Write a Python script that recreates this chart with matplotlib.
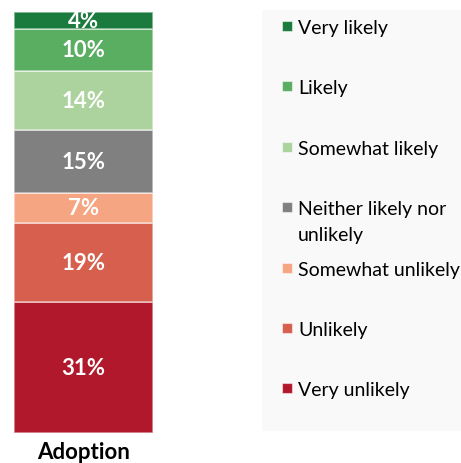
import matplotlib.pyplot as plt
from matplotlib.patches import Rectangle

plt.rcParams['font.family'] = ['Lato', 'DejaVu Sans']

# responses from bottom to top of the bar
categories = ["Very unlikely", "Unlikely", "Somewhat unlikely",
              "Neither likely nor\nunlikely", "Somewhat likely", "Likely", "Very likely"]
values = [31, 19, 7, 15, 14, 10, 4]
colors = ["#b2182b", "#d6604d", "#f6a582", "#808080", "#acd39e", "#5aae61", "#1b7a3d"]
bar_label = "Adoption"

fig = plt.figure(figsize=(4.61, 4.64), dpi=100)

# stacked bar
ax = fig.add_axes([14/461, 30/464, 139/461, 421/464])
bottom = 0
for v, c in zip(values, colors):
    ax.bar(0, v, width=1, bottom=bottom, color=c,
           edgecolor=(1, 1, 1, 0.55), linewidth=1.2)
    ax.text(0, bottom + v/2, f"{v}%", ha="center", va="center",
            color="white", fontsize=16, fontweight="bold")
    bottom += v
ax.set_xlim(-0.5, 0.5)
ax.set_ylim(0, 100)
ax.axis("off")
fig.text(84/461, 1 - 453/464, bar_label, ha="center", va="center",
         fontsize=16, fontweight="bold")

# legend panel, top entry first
lg = fig.add_axes([262/461, 32/464, 199/461, 421/464])
lg.set_facecolor("#f9f9f9")
lg.set_xlim(0, 199)
lg.set_ylim(421, 0)
for spine in lg.spines.values():
    spine.set_visible(False)
lg.set_xticks([])
lg.set_yticks([])
for i, (name, c) in enumerate(zip(categories[::-1], colors[::-1])):
    y = 16 + 60.4*i
    lg.add_patch(Rectangle((20, y - 5), 10, 10, facecolor=c,
                           edgecolor=(1, 1, 1, 0.5), linewidth=0.8))
    # wrapped labels continue below the marker line
    for k, line in enumerate(name.split("\n")):
        lg.text(36, y + 7 + 26*k, line, ha="left", va="baseline",
                fontsize=14, clip_on=False)

fig.savefig("out.png", dpi=100)
